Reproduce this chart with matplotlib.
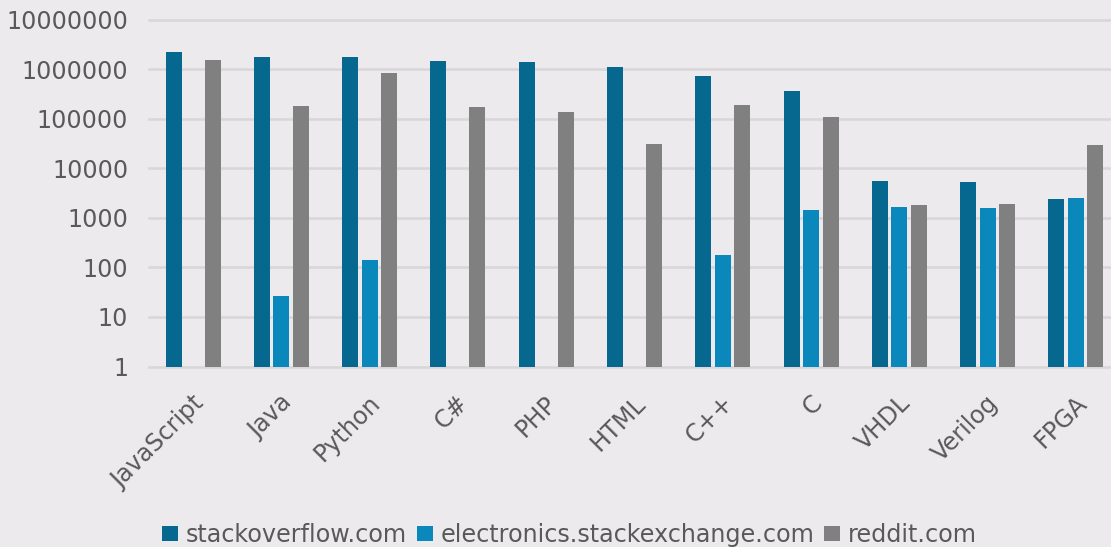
import matplotlib
matplotlib.use("Agg")
import matplotlib.pyplot as plt
import matplotlib.transforms as mtransforms
import numpy as np

plt.rcParams["font.family"] = ["DejaVu Sans"]

categories = ["JavaScript", "Java", "Python", "C#", "PHP", "HTML", "C++", "C",
              "VHDL", "Verilog", "FPGA"]
stackoverflow = [2210000, 1750000, 1750000, 1460000, 1390000, 1100000, 725000,
                 361000, 5500, 5300, 2400]
electronics = [np.nan, 26, 141, np.nan, np.nan, np.nan, 178, 1430, 1650, 1580, 2500]
reddit = [1520000, 180000, 834000, 172000, 136000, 30800, 188000, 108000,
          1810, 1900, 29400]
series_names = ["stackoverflow.com", "electronics.stackexchange.com", "reddit.com"]
y_ticks = [1, 10, 100, 1000, 10000, 100000, 1000000, 10000000]

colors = ["#06678F", "#0A88BB", "#808080"]
bg = "#ECEAED"
text_color = "#595959"
fs = 17.2

fig = plt.figure(figsize=(11.11, 5.47), dpi=100, facecolor=bg)
ax = fig.add_axes([149 / 1111, 180.5 / 547, 971 / 1111, 347 / 547], facecolor=bg)

x = np.arange(len(categories))
width = 0.181
step = 0.221
for i, (values, name) in enumerate(zip([stackoverflow, electronics, reddit], series_names)):
    ax.bar(x + (i - 1) * step, values, width=width, color=colors[i], label=name, zorder=3)

ax.set_yscale("log")
ax.set_ylim(1, 1e7)
ax.set_xlim(-0.5, len(categories) - 0.5)
ax.set_yticks(y_ticks)
ax.set_yticklabels([str(t) for t in y_ticks])
ax.yaxis.set_minor_locator(matplotlib.ticker.NullLocator())
ax.grid(axis="y", color="#D8D6D9", linewidth=1.8, zorder=0)
ax.set_axisbelow(True)
for line in ax.get_ygridlines():
    line.set_clip_on(False)
for spine in ax.spines.values():
    spine.set_visible(False)
ax.tick_params(axis="both", length=0, labelsize=fs, colors=text_color)
ax.tick_params(axis="y", pad=15)

ax.set_xticks(x)
ax.set_xticklabels(categories, rotation=45, ha="right", va="center", rotation_mode="anchor")
offset = mtransforms.ScaledTranslation(7 / 100, -28 / 100, fig.dpi_scale_trans)
for label in ax.get_xticklabels():
    label.set_transform(label.get_transform() + offset)

fig.legend(loc="center", bbox_to_anchor=(569.6 / 1111, 1 - 534.7 / 547), ncol=3, frameon=False,
           fontsize=fs, labelcolor=text_color, handlelength=0.67, handleheight=0.59,
           handletextpad=0.33, columnspacing=0.4, borderaxespad=0, borderpad=0)

fig.savefig("out.png", dpi=100, facecolor=bg)
